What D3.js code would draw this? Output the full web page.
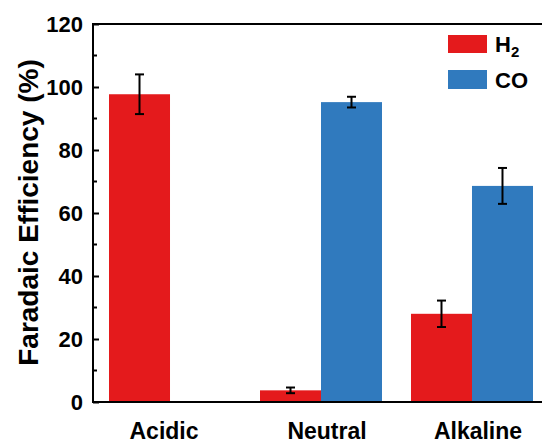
<!DOCTYPE html>
<html>
<head>
<meta charset="utf-8">
<script src="https://cdn.jsdelivr.net/npm/d3@7/dist/d3.min.js"></script>
<style>
  html, body { margin: 0; padding: 0; background: #fff; overflow: hidden; }
  text { font-family: "Liberation Sans", Arial, sans-serif; font-weight: bold; fill: #000; }
</style>
</head>
<body>
<svg id="chart" width="542" height="443"></svg>
<script>
// Faradaic efficiency of H2 and CO in three electrolytes
const categories = ["Acidic", "Neutral", "Alkaline"];
const h2Values = [97.7, 3.7, 28.0];
const h2Errors = [6.3, 0.9, 4.2];
const coValues = [null, 95.2, 68.6];
const coErrors = [null, 1.7, 5.7];
const yTicks = [0, 20, 40, 60, 80, 100, 120];
const seriesNames = ["H", "CO"];
const colors = { h2: "#E41A1C", co: "#307ABE" };

(function () {
const svg = d3.select("#chart");
const plotLeft = 93, plotRight = 549, plotTop = 24, plotBottom = 402;
const labelShift = [-6, 6, 6];

const x = d3.scaleLinear().domain([-0.51, 2.51]).range([plotLeft, plotRight]);
const y = d3.scaleLinear().domain([0, 120]).range([plotBottom, plotTop]);
const barW = x(0.404) - x(0);

// bars
const series = [
  { key: "h2", vals: h2Values, errs: h2Errors, off: -1 },
  { key: "co", vals: coValues, errs: coErrors, off: 0 }
];
series.forEach(s => {
  const data = categories.map((c, i) => ({ i, v: s.vals[i], e: s.errs[i] })).filter(d => d.v != null);
  const g = svg.append("g");
  g.selectAll("rect").data(data).enter().append("rect")
    .attr("x", d => x(d.i) + s.off * barW)
    .attr("width", barW)
    .attr("y", d => y(d.v))
    .attr("height", d => y(0) - y(d.v))
    .attr("fill", colors[s.key]);
  // error bars
  const eg = g.selectAll("g.err").data(data).enter().append("g").attr("class", "err");
  const cx = d => x(d.i) + s.off * barW + barW / 2;
  eg.append("line")
    .attr("x1", cx).attr("x2", cx)
    .attr("y1", d => y(d.v + d.e)).attr("y2", d => y(d.v - d.e))
    .attr("stroke", "#000").attr("stroke-width", 2);
  [1, -1].forEach(sg => {
    eg.append("line")
      .attr("x1", d => cx(d) - 4.5).attr("x2", d => cx(d) + 4.5)
      .attr("y1", d => y(d.v + sg * d.e)).attr("y2", d => y(d.v + sg * d.e))
      .attr("stroke", "#000").attr("stroke-width", 2);
  });
});

// y axis with inward ticks
const yAxis = d3.axisLeft(y).tickValues(yTicks).tickSize(-6).tickPadding(10).tickFormat(d3.format("d"));
const ya = svg.append("g").attr("transform", `translate(${plotLeft},0)`).call(yAxis);
ya.select(".domain").remove();
ya.selectAll(".tick line").attr("stroke", "#000").attr("stroke-width", 2);
ya.selectAll(".tick text").style("font-size", "22px").style("font-family", "Liberation Sans, Arial, sans-serif").style("font-weight", "bold").attr("dy", "0.36em");
// minor ticks
svg.append("g").selectAll("line").data(d3.range(10, 120, 20)).enter().append("line")
  .attr("x1", plotLeft).attr("x2", plotLeft + 4)
  .attr("y1", d => y(d)).attr("y2", d => y(d))
  .attr("stroke", "#000").attr("stroke-width", 2);

// frame lines
svg.append("line").attr("x1", plotLeft).attr("x2", plotLeft).attr("y1", plotTop - 1).attr("y2", plotBottom + 1).attr("stroke", "#000").attr("stroke-width", 2);
svg.append("line").attr("x1", plotLeft - 1).attr("x2", 542).attr("y1", plotBottom).attr("y2", plotBottom).attr("stroke", "#000").attr("stroke-width", 2);
svg.append("line").attr("x1", plotLeft - 1).attr("x2", 542).attr("y1", plotTop).attr("y2", plotTop).attr("stroke", "#000").attr("stroke-width", 2);

// category labels
svg.append("g").selectAll("text").data(categories).enter().append("text")
  .attr("x", (d, i) => x(i) + labelShift[i]).attr("y", 439)
  .attr("text-anchor", "middle").style("font-size", "23px").text(d => d);

// y title
svg.append("text")
  .attr("transform", `translate(38,212.5) rotate(-90)`)
  .attr("text-anchor", "middle").style("font-size", "28px")
  .text("Faradaic Efficiency (%)");

// legend
const lg = svg.append("g");
lg.append("rect").attr("x", 448).attr("y", 35).attr("width", 39).attr("height", 18).attr("fill", colors.h2);
lg.append("rect").attr("x", 448).attr("y", 70).attr("width", 39).attr("height", 19).attr("fill", colors.co);
const h2t = lg.append("text").attr("x", 495).attr("y", 52).style("font-size", "22px");
h2t.append("tspan").text(seriesNames[0]);
h2t.append("tspan").attr("dy", 5).style("font-size", "15px").text("2");
lg.append("text").attr("x", 495).attr("y", 88).style("font-size", "22px").text(seriesNames[1]);
})();
</script>
</body>
</html>
